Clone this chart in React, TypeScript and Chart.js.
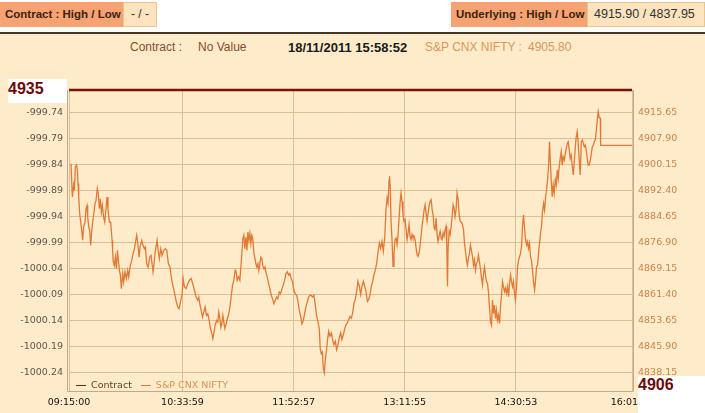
import React, { useEffect, useRef } from "react";
import { Chart, registerables } from "chart.js";

Chart.register(...registerables);

// x axis: minutes after 09:15:00
const xTickMinutes = [0, 80.6, 159.6, 238.5, 317.5, 400];
const xTickLabels = ["09:15:00", "10:33:59", "11:52:57", "13:11:55", "14:30:53", "16:01:50"];
const X_MIN = 0;
const X_MAX = 400;

// left axis (Contract)
const leftTicks = [-999.74, -999.79, -999.84, -999.89, -999.94, -999.99, -1000.04, -1000.09, -1000.14, -1000.19, -1000.24];
const LEFT_MIN = -1000.276;
const LEFT_MAX = -999.697;

// right axis (S&P CNX NIFTY)
const rightTicks = [4915.65, 4907.9, 4900.15, 4892.4, 4884.65, 4876.9, 4869.15, 4861.4, 4853.65, 4845.9, 4838.15];
const RIGHT_MIN = 4832.57;
const RIGHT_MAX = 4922.31;

// Contract series: [minute, value]
const contractSeries: [number, number][] = [
  [0, LEFT_MAX],
  [400, LEFT_MAX],
];

// S&P CNX NIFTY series: [minute after 09:15, index level]
const niftySeries: [number, number][] = [
  [1.4, 4900.3], [2.4, 4890.4], [3.3, 4893.9], [3.8, 4892.4], [4.5, 4899.4], [5.4, 4899.9], [5.9, 4898.4], [6.4, 4894.4],
  [6.9, 4890.4], [7.6, 4885.4], [8.3, 4882.9], [9.0, 4880.5], [9.7, 4877.5], [10.4, 4881.5], [11.4, 4882.9], [12.1, 4886.9],
  [12.8, 4887.9], [13.3, 4884.4], [14.0, 4881.5], [14.7, 4880.5], [15.4, 4876.0], [16.1, 4880.0], [16.8, 4882.9], [17.8, 4885.9],
  [18.5, 4888.4], [19.2, 4889.4], [20.1, 4892.9], [20.8, 4891.4], [21.6, 4886.9], [22.3, 4889.9], [23.0, 4885.9], [23.7, 4887.9],
  [24.6, 4884.4], [25.4, 4882.9], [26.3, 4886.9], [27.0, 4890.4], [27.7, 4886.9], [28.7, 4882.9], [29.6, 4882.9], [30.6, 4877.5],
  [31.0, 4874.5], [31.5, 4871.0], [32.2, 4870.0], [32.9, 4872.5], [33.7, 4869.0], [34.4, 4874.5], [35.1, 4871.5], [35.8, 4868.5],
  [36.5, 4867.1], [37.2, 4863.1], [38.2, 4867.6], [38.9, 4865.1], [39.8, 4868.1], [40.8, 4866.1], [41.7, 4868.5], [42.4, 4866.6],
  [43.6, 4870.0], [44.6, 4871.5], [45.5, 4873.5], [46.5, 4875.0], [48.1, 4879.0], [48.8, 4877.0], [49.8, 4872.5], [50.5, 4875.5],
  [51.7, 4877.5], [52.6, 4876.0], [53.6, 4875.0], [54.3, 4875.5], [55.2, 4870.5], [56.2, 4869.5], [57.4, 4872.5], [58.3, 4873.0],
  [59.7, 4868.1], [60.4, 4870.5], [61.4, 4874.5], [62.6, 4877.5], [63.3, 4874.5], [64.2, 4872.0], [65.2, 4875.0], [66.1, 4873.0],
  [67.3, 4874.5], [68.5, 4875.0], [69.5, 4874.5], [70.6, 4870.5], [71.8, 4869.5], [73.0, 4865.6], [74.0, 4863.6], [75.1, 4861.6],
  [76.3, 4859.1], [77.3, 4857.6], [78.2, 4857.1],
  [79.2, 4859.1], [80.4, 4861.6], [81.1, 4866.1], [82.0, 4863.6], [83.2, 4863.1], [84.4, 4864.6], [85.6, 4865.6], [86.8, 4866.1],
  [87.9, 4864.6], [89.1, 4862.6], [90.3, 4860.6], [91.5, 4859.6], [92.2, 4860.6], [92.9, 4858.6], [93.9, 4856.6], [94.8, 4854.6],
  [95.8, 4856.1], [96.7, 4857.6], [97.7, 4855.1], [98.6, 4855.6], [99.6, 4853.6], [100.5, 4851.2], [101.5, 4849.7], [102.2, 4848.2],
  [102.9, 4849.7], [103.8, 4852.1], [104.8, 4853.6], [105.7, 4853.1], [106.4, 4856.1], [107.2, 4854.1], [107.9, 4851.6], [108.6, 4852.6],
  [109.3, 4855.1], [110.0, 4853.1], [110.7, 4851.2], [111.7, 4852.6], [112.4, 4854.1], [113.3, 4855.1], [114.3, 4857.6], [115.2, 4860.6],
  [116.2, 4864.1], [117.1, 4865.6], [118.1, 4868.6], [118.8, 4868.1], [119.5, 4865.6], [120.4, 4866.6], [121.4, 4865.6], [122.1, 4869.5],
  [122.8, 4873.5], [123.5, 4878.0], [124.2, 4879.0], [124.9, 4875.0], [125.7, 4878.5], [126.4, 4874.5], [127.1, 4880.0], [127.8, 4877.5],
  [128.5, 4879.5], [129.2, 4876.5], [129.9, 4879.0], [130.6, 4878.0], [131.3, 4874.0], [132.1, 4872.0], [132.8, 4870.5], [133.5, 4869.5],
  [134.2, 4870.5], [134.9, 4868.5], [135.6, 4870.5], [136.3, 4872.5], [137.0, 4872.0], [137.7, 4870.0], [138.5, 4869.0], [139.2, 4869.5],
  [139.9, 4868.1], [140.8, 4866.6], [141.8, 4864.6], [142.7, 4863.1], [143.7, 4861.1], [144.6, 4860.1], [145.6, 4858.6], [146.5, 4859.6],
  [147.5, 4860.6], [148.4, 4860.1], [149.4, 4862.1], [150.3, 4861.6], [151.3, 4863.1], [152.2, 4864.1], [153.2, 4865.6], [154.1, 4867.6],
  [155.1, 4868.1], [156.0, 4867.1], [156.9, 4867.6], [157.9, 4866.1], [158.8, 4865.1], [159.8, 4862.6], [160.7, 4861.6], [161.7, 4861.1],
  [162.6, 4859.6], [163.6, 4856.6], [164.5, 4855.1], [165.5, 4852.6], [166.4, 4853.6], [167.4, 4855.6], [168.3, 4857.6], [169.3, 4859.1],
  [170.2, 4860.6], [171.2, 4861.1], [172.1, 4861.1], [173.1, 4860.6], [174.0, 4861.1], [175.0, 4858.1], [175.9, 4855.1], [176.9, 4853.1],
  [177.8, 4851.2], [178.5, 4845.2], [179.2, 4843.7], [180.0, 4844.2], [180.7, 4839.2], [181.4, 4837.95],
  [182.1, 4841.9], [183.0, 4844.9], [183.7, 4847.9], [184.5, 4850.4], [185.4, 4848.9], [186.4, 4849.9], [187.3, 4847.9], [188.2, 4846.4],
  [189.2, 4847.4], [190.1, 4844.9], [191.1, 4846.4], [192.0, 4848.4], [193.0, 4849.9], [193.9, 4847.9], [194.9, 4849.4], [195.8, 4850.9],
  [196.8, 4852.4], [197.7, 4852.8], [198.7, 4853.8], [199.6, 4854.8], [200.6, 4854.3], [201.5, 4855.8], [202.5, 4858.8], [203.4, 4859.8],
  [204.4, 4862.3], [205.3, 4865.3], [206.3, 4863.8], [207.2, 4861.3], [208.2, 4863.8], [209.1, 4865.3], [210.1, 4863.8], [211.0, 4862.3],
  [212.0, 4859.3], [212.9, 4859.8], [213.9, 4861.3], [214.8, 4863.8], [215.8, 4865.3], [216.7, 4867.3], [217.7, 4868.7], [218.6, 4870.7],
  [219.5, 4873.7], [220.5, 4876.7], [221.4, 4875.2], [222.4, 4877.2], [223.3, 4874.2], [224.3, 4878.2], [225.2, 4886.6], [226.0, 4890.1],
  [226.7, 4888.6], [227.4, 4895.6], [227.8, 4896.6], [228.3, 4892.6], [228.8, 4883.1], [229.5, 4877.7], [230.2, 4869.7], [230.9, 4873.7],
  [231.6, 4877.7], [232.4, 4878.2], [233.1, 4876.2], [233.8, 4879.2], [234.5, 4884.1], [235.2, 4888.6], [235.9, 4891.6], [236.6, 4889.1],
  [237.3, 4885.1], [238.0, 4883.2], [238.8, 4883.7], [239.5, 4880.7], [240.2, 4877.7], [240.9, 4879.7], [241.6, 4882.2], [242.3, 4878.7],
  [243.0, 4877.7], [243.7, 4879.2], [244.4, 4878.2], [245.2, 4878.7], [245.9, 4877.7], [246.6, 4875.2], [247.3, 4873.2], [248.0, 4872.7],
  [248.7, 4873.7], [249.4, 4875.7], [250.1, 4878.7], [250.8, 4881.7], [251.6, 4884.1], [252.3, 4886.6], [253.0, 4888.1], [253.7, 4885.6],
  [254.4, 4883.2], [255.1, 4885.6], [255.8, 4887.6], [256.5, 4889.1], [257.3, 4889.6], [258.0, 4886.6], [258.7, 4885.1], [259.4, 4881.2],
  [260.1, 4880.7], [260.8, 4884.1], [261.5, 4879.2], [262.2, 4877.2], [262.9, 4878.7], [263.7, 4880.2], [264.4, 4878.2], [265.1, 4877.7],
  [265.8, 4879.7], [266.5, 4878.7], [267.2, 4880.7], [267.9, 4881.7], [268.4, 4875.7], [268.9, 4863.8], [269.3, 4874.7], [270.1, 4880.2],
  [270.8, 4879.2], [271.5, 4881.7], [272.2, 4884.6], [272.9, 4888.1], [273.6, 4887.1], [274.3, 4884.6], [275.0, 4886.6], [275.7, 4891.6],
  [276.5, 4889.6], [277.2, 4885.1], [277.9, 4883.2],
  [279.3, 4882.6], [280.3, 4880.6], [281.0, 4876.6], [281.7, 4874.1], [282.4, 4871.6], [283.1, 4870.1], [283.8, 4872.1], [284.5, 4873.6],
  [285.2, 4876.1], [285.9, 4874.6], [286.7, 4872.6], [287.4, 4870.1], [288.1, 4871.6], [288.8, 4868.6], [289.5, 4870.6], [290.2, 4871.1],
  [290.9, 4873.1], [291.6, 4871.1], [292.3, 4869.1], [293.1, 4866.2], [293.8, 4864.2], [294.5, 4867.6], [295.2, 4869.6], [295.9, 4867.2],
  [296.6, 4865.2], [297.3, 4864.7], [298.0, 4862.2], [298.7, 4857.7], [299.5, 4853.2], [300.2, 4852.2], [300.9, 4859.7], [301.6, 4855.7],
  [302.3, 4858.2], [303.0, 4854.2], [303.7, 4856.7], [304.4, 4853.7], [305.1, 4855.2], [305.9, 4852.7], [306.6, 4857.7], [307.3, 4861.2],
  [308.0, 4865.2], [308.7, 4863.7], [309.4, 4862.2], [310.1, 4863.2], [310.8, 4861.7], [311.6, 4863.7], [312.3, 4860.7], [313.0, 4864.7],
  [313.7, 4867.2], [314.4, 4865.2], [315.1, 4863.7], [315.8, 4865.2], [316.5, 4861.7], [317.2, 4859.7], [318.0, 4863.7], [318.7, 4869.6],
  [319.4, 4871.6], [320.1, 4872.6], [320.8, 4873.6], [321.5, 4875.6], [322.2, 4881.6], [322.9, 4885.0], [323.6, 4881.6], [324.4, 4877.6],
  [325.1, 4876.1], [325.8, 4877.1], [326.5, 4875.1], [327.2, 4876.6], [327.9, 4872.6], [328.6, 4871.6], [329.3, 4868.6], [330.0, 4865.2],
  [330.8, 4862.7], [331.5, 4865.7], [332.2, 4869.6], [332.9, 4870.1], [333.6, 4873.6], [334.3, 4876.6], [335.0, 4879.6], [335.7, 4881.6],
  [336.4, 4886.0], [337.2, 4888.5], [337.9, 4886.5], [338.6, 4890.5], [339.3, 4892.5], [340.0, 4895.5], [340.7, 4899.5], [341.4, 4906.9],
  [341.9, 4901.9], [342.6, 4895.5], [343.3, 4890.5], [344.0, 4894.0], [344.7, 4891.5], [345.5, 4895.5], [346.2, 4894.0], [346.9, 4898.5],
  [347.6, 4896.0], [348.3, 4899.5], [349.0, 4901.9], [349.7, 4903.9], [350.4, 4899.9], [351.1, 4902.4], [351.9, 4901.4], [352.6, 4903.4],
  [353.3, 4904.9], [354.0, 4906.4], [354.7, 4906.9], [355.4, 4904.4], [356.1, 4901.9], [356.8, 4902.9], [357.6, 4899.5], [358.3, 4897.0],
  [359.0, 4900.9], [359.7, 4905.4], [360.4, 4908.4], [361.1, 4909.9], [361.8, 4906.4], [362.5, 4901.4], [363.2, 4897.0], [364.0, 4906.9],
  [364.7, 4907.4], [365.4, 4906.4], [366.1, 4905.4], [366.8, 4905.9], [367.5, 4904.4], [368.2, 4901.9], [368.9, 4899.9], [369.6, 4899.9],
  [370.4, 4901.4], [371.1, 4903.4], [371.8, 4905.4], [372.5, 4905.9], [373.2, 4906.9], [373.9, 4907.4], [374.6, 4909.9], [375.3, 4913.4],
  [376.0, 4915.9], [376.8, 4913.9], [377.5, 4913.9], [377.7, 4905.8], [400, 4905.8],
];

const CONTRACT_COLOR = "#7A1408";
const NIFTY_COLOR = "#E07A36";
const GRID_COLOR = "#DCBF98";
const FRAME_COLOR = "#BFA88C";
const legendTextColors = ["#6B3A22", "#D9925A"];
const AXIS_FONT = '"DejaVu Sans", Verdana, sans-serif';
const UI_FONT = '"Liberation Sans", Arial, sans-serif';

const framePlugin = {
  id: "frame",
  beforeDatasetsDraw(chart: any) {
    const { ctx, chartArea } = chart;
    const { left, right, top, bottom } = chartArea;
    ctx.save();
    ctx.strokeStyle = FRAME_COLOR;
    ctx.lineWidth = 1;
    ctx.beginPath();
    ctx.moveTo(left - 1.5, top);
    ctx.lineTo(left - 1.5, bottom + 0.5);
    ctx.lineTo(right + 1.5, bottom + 0.5);
    ctx.lineTo(right + 1.5, top);
    ctx.stroke();
    ctx.restore();
  },
};

const legendPlugin = {
  id: "innerLegend",
  afterDraw(chart: any) {
    const { ctx, chartArea } = chart;
    let x = chartArea.left + 7;
    const y = chartArea.bottom - 6;
    ctx.save();
    ctx.font = `9.5px ${AXIS_FONT}`;
    ctx.textBaseline = "middle";
    ctx.textAlign = "left";
    chart.data.datasets.forEach((ds: any, i: number) => {
      ctx.strokeStyle = i === 0 ? "#6B2A10" : ds.borderColor;
      ctx.lineWidth = 1;
      ctx.beginPath();
      ctx.moveTo(x, Math.round(y) + 0.5);
      ctx.lineTo(x + 10, Math.round(y) + 0.5);
      ctx.stroke();
      x += 15;
      ctx.fillStyle = legendTextColors[i];
      ctx.fillText(ds.label, x, y + 0.5);
      x += ctx.measureText(ds.label).width + 9;
    });
    ctx.restore();
  },
};

const boxBase: React.CSSProperties = {
  position: "absolute",
  top: 2,
  height: 25,
  boxSizing: "border-box",
  lineHeight: "25px",
  whiteSpace: "nowrap",
  fontFamily: UI_FONT,
};

export default function App() {
  const ref = useRef<HTMLCanvasElement>(null);

  useEffect(() => {
    document.body.style.margin = "0";
    const canvas = ref.current;
    if (!canvas) return;
    const chart = new Chart(canvas, {
      type: "line",
      data: {
        datasets: [
          {
            label: "Contract",
            data: contractSeries.map(([x, y]) => ({ x, y })),
            yAxisID: "yL",
            borderColor: CONTRACT_COLOR,
            borderWidth: 2.5,
            pointRadius: 0,
            clip: false as any,
          },
          {
            label: "S&P CNX NIFTY",
            data: niftySeries.map(([x, y]) => ({ x, y })),
            yAxisID: "yR",
            borderColor: NIFTY_COLOR,
            borderWidth: 1.3,
            pointRadius: 0,
            tension: 0,
          },
        ],
      },
      options: {
        animation: false,
        responsive: false,
        maintainAspectRatio: false,
        devicePixelRatio: 1,
        layout: { padding: { top: 90, left: 0, right: 0, bottom: 0 } },
        plugins: { legend: { display: false }, tooltip: { enabled: false } },
        scales: {
          x: {
            type: "linear",
            min: X_MIN,
            max: X_MAX,
            afterBuildTicks: (s: any) => {
              s.ticks = xTickMinutes.map((v) => ({ value: v }));
            },
            afterFit: (s: any) => {
              s.height = 22;
            },
            ticks: {
              autoSkip: false,
              maxRotation: 0,
              padding: 6,
              color: "#111111",
              font: { family: AXIS_FONT, size: 9.5 },
              callback: (_v: any, i: number) => xTickLabels[i],
            },
            grid: { color: GRID_COLOR, drawTicks: false, lineWidth: 1 },
            border: { display: false },
          },
          yL: {
            type: "linear",
            position: "left",
            min: LEFT_MIN,
            max: LEFT_MAX,
            afterBuildTicks: (s: any) => {
              s.ticks = leftTicks.map((v) => ({ value: v }));
            },
            afterFit: (s: any) => {
              s.width = 69;
            },
            ticks: {
              padding: 6,
              color: "#5E5550",
              font: { family: AXIS_FONT, size: 9.5 },
              callback: (v: any) => Number(v).toFixed(2),
            },
            grid: { display: false, drawTicks: false },
            border: { display: false },
          },
          yR: {
            type: "linear",
            position: "right",
            min: RIGHT_MIN,
            max: RIGHT_MAX,
            afterBuildTicks: (s: any) => {
              s.ticks = rightTicks.map((v) => ({ value: v }));
            },
            afterFit: (s: any) => {
              s.width = 73;
            },
            ticks: {
              padding: 6,
              color: "#C9844C",
              font: { family: AXIS_FONT, size: 9.5 },
              callback: (v: any) => Number(v).toFixed(2),
            },
            grid: { color: GRID_COLOR, drawTicks: false, lineWidth: 1 },
            border: { display: false },
          },
        },
      } as any,
      plugins: [framePlugin, legendPlugin],
    });
    return () => chart.destroy();
  }, []);

  return (
    <div
      style={{
        position: "fixed",
        left: 0,
        top: 0,
        width: 705,
        height: 413,
        background: "#ffffff",
        overflow: "hidden",
        fontFamily: UI_FONT,
      }}
    >
      {/* top info boxes */}
      <div style={{ ...boxBase, left: 0, width: 123, background: "#F7A272", paddingLeft: 5, fontSize: 11.5, fontWeight: "bold", color: "#3A2410" }}>
        Contract : High / Low
      </div>
      <div style={{ ...boxBase, left: 123, width: 34, background: "#FDE4BE", border: "1px solid #E8C690", lineHeight: "23px", textAlign: "center", fontSize: 12, color: "#333" }}>
        - / -
      </div>
      <div style={{ ...boxBase, left: 451, width: 136, background: "#F7A272", paddingLeft: 5, fontSize: 11.5, fontWeight: "bold", color: "#3A2410" }}>
        Underlying : High / Low
      </div>
      <div style={{ ...boxBase, left: 587, width: 118, background: "#FDE4BE", border: "1px solid #E8C690", lineHeight: "23px", paddingLeft: 6, fontSize: 12.5, color: "#333" }}>
        4915.90 / 4837.95
      </div>

      {/* main panel */}
      <div
        style={{
          position: "absolute",
          left: 0,
          top: 32,
          width: 705,
          height: 381,
          boxSizing: "border-box",
          background: "#FEEBC9",
          borderTop: "2px solid #4A3520",
        }}
      />
      <div style={{ position: "absolute", top: 40, left: 130, fontSize: 12, color: "#8A4B2C", whiteSpace: "nowrap" }}>Contract :</div>
      <div style={{ position: "absolute", top: 40, left: 198, fontSize: 12, color: "#8A4B2C", whiteSpace: "nowrap" }}>No Value</div>
      <div style={{ position: "absolute", top: 40, left: 288, fontSize: 13, fontWeight: "bold", color: "#1A1A1A", whiteSpace: "nowrap" }}>18/11/2011 15:58:52</div>
      <div style={{ position: "absolute", top: 40, left: 425, fontSize: 12, color: "#E0955C", whiteSpace: "nowrap" }}>S&amp;P CNX NIFTY :</div>
      <div style={{ position: "absolute", top: 40, left: 528, fontSize: 12, color: "#E0955C", whiteSpace: "nowrap" }}>4905.80</div>

      <canvas
        ref={ref}
        width={705}
        height={413}
        style={{ position: "absolute", left: 0, top: 0, width: 705, height: 413 }}
      />

      {/* white value boxes */}
      <div
        style={{
          position: "absolute",
          left: 8,
          top: 79,
          width: 59,
          height: 24,
          background: "#ffffff",
          fontSize: 16,
          fontWeight: "bold",
          lineHeight: "20px",
          color: "#6A0A0A",
        }}
      >
        4935
      </div>
      <div
        style={{
          position: "absolute",
          left: 638,
          top: 376,
          width: 67,
          height: 37,
          background: "#ffffff",
          fontSize: 16,
          fontWeight: "bold",
          lineHeight: "18px",
          color: "#6A0A0A",
        }}
      >
        4906
      </div>
    </div>
  );
}
